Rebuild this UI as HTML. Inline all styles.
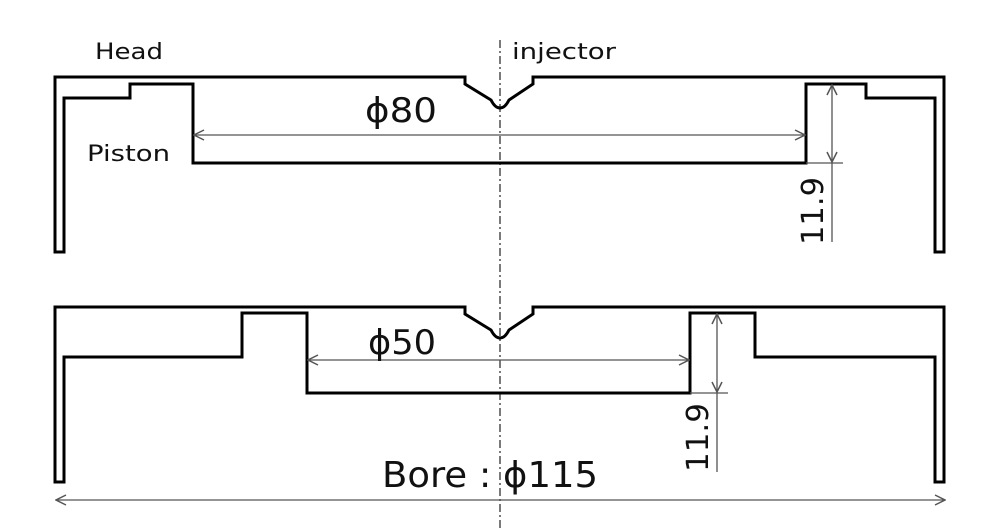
<!DOCTYPE html>
<html><head><style>
html,body{margin:0;padding:0;background:#fff;}
svg{display:block}
text{font-family:"DejaVu Sans","Liberation Sans",sans-serif;fill:#111}
</style></head><body>
<svg width="1000" height="529" viewBox="0 0 1000 529" xmlns="http://www.w3.org/2000/svg">
<defs>
<marker id="a" markerWidth="12" markerHeight="12" refX="11" refY="6" orient="auto-start-reverse" markerUnits="userSpaceOnUse">
<path d="M1,1 L11,6 L1,11" fill="none" stroke="#555" stroke-width="1.5"/>
</marker>
</defs>
<line x1="500" y1="40" x2="500" y2="529" stroke="#222" stroke-width="1.2" stroke-dasharray="8,3,2,3"/>
<path d="M55,252 L55,77 L465,77 L465,84 L491,100 Q495,108 500,108 Q505,108 509,100 L533,84 L533,77 L944,77 L944,252 L935,252 L935,98 L866,98 L866,84 L806,84 L806,163 L193,163 L193,84 L130,84 L130,98 L64,98 L64,252 Z" fill="none" stroke="#000" stroke-width="3"/>
<path d="M55,482 L55,307 L465,307 L465,314 L491,330 Q495,338 500,338 Q505,338 509,330 L533,314 L533,307 L944,307 L944,482 L935,482 L935,357 L755,357 L755,313 L690,313 L690,393 L307,393 L307,313 L242,313 L242,357 L64,357 L64,482 Z" fill="none" stroke="#000" stroke-width="3"/>
<line x1="194" y1="135" x2="805" y2="135" stroke="#555" stroke-width="1.3" marker-start="url(#a)" marker-end="url(#a)"/>
<line x1="308" y1="360" x2="689" y2="360" stroke="#555" stroke-width="1.3" marker-start="url(#a)" marker-end="url(#a)"/>
<line x1="832" y1="85" x2="832" y2="162" stroke="#555" stroke-width="1.3" marker-start="url(#a)" marker-end="url(#a)"/>
<line x1="832" y1="162" x2="832" y2="242" stroke="#555" stroke-width="1.3"/>
<line x1="806" y1="163" x2="843" y2="163" stroke="#555" stroke-width="1.3"/>
<line x1="717" y1="314" x2="717" y2="392" stroke="#555" stroke-width="1.3" marker-start="url(#a)" marker-end="url(#a)"/>
<line x1="717" y1="392" x2="717" y2="472" stroke="#555" stroke-width="1.3"/>
<line x1="690" y1="393" x2="728" y2="393" stroke="#555" stroke-width="1.3"/>
<line x1="56" y1="500" x2="945" y2="500" stroke="#555" stroke-width="1.3" marker-start="url(#a)" marker-end="url(#a)"/>
<text x="95" y="59" font-size="22" textLength="68" lengthAdjust="spacingAndGlyphs">Head</text>
<text x="512" y="59" font-size="22" textLength="104" lengthAdjust="spacingAndGlyphs">injector</text>
<text x="87" y="161" font-size="22" textLength="83" lengthAdjust="spacingAndGlyphs">Piston</text>
<text x="365" y="122" font-size="34" textLength="72" lengthAdjust="spacingAndGlyphs">ϕ80</text>
<text x="368" y="354" font-size="34" textLength="68" lengthAdjust="spacingAndGlyphs">ϕ50</text>
<text x="382" y="487" font-size="36" textLength="216" lengthAdjust="spacingAndGlyphs">Bore : ϕ115</text>
<text transform="translate(823,245) rotate(-90)" font-size="30" textLength="68" lengthAdjust="spacingAndGlyphs">11.9</text>
<text transform="translate(708,472) rotate(-90)" font-size="30" textLength="69" lengthAdjust="spacingAndGlyphs">11.9</text>
</svg>
</body></html>
